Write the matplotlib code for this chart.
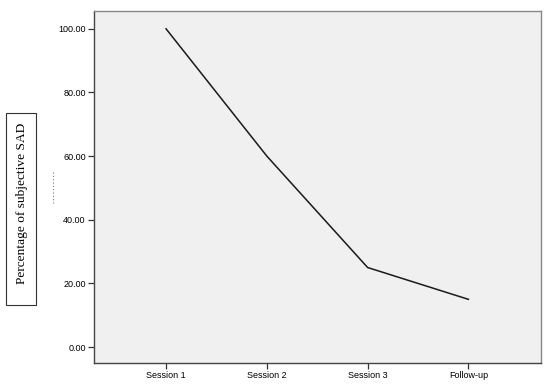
import matplotlib
matplotlib.use("Agg")
import matplotlib.pyplot as plt
from matplotlib.lines import Line2D
from matplotlib.patches import Rectangle

categories = ["Session 1", "Session 2", "Session 3", "Follow-up"]
values = [100, 60, 25, 15]
yticks = [0, 20, 40, 60, 80, 100]
ylabel = "Percentage of subjective SAD"

W, H = 550, 385
fig = plt.figure(figsize=(W / 100, H / 100), dpi=100)
fig.patch.set_facecolor("white")

left, right, top, bottom = 94, 541, 11, 363
ax = fig.add_axes([left / W, 1 - bottom / H, (right - left) / W, (bottom - top) / H])
ax.set_facecolor("#F0F0F0")

x = list(range(len(categories)))
ax.plot(x, values, color="#1a1a1a", linewidth=1.1)

ax.set_xlim(-0.715, 3.72)
ax.set_ylim(-5.0, 105.6)
ax.set_xticks(x)
ax.set_xticklabels(categories, fontsize=6.5, family="Liberation Sans")
ax.set_yticks(yticks)
ax.set_yticklabels([f"{v:.2f}" for v in yticks], fontsize=6.5, family="Liberation Sans")
ax.tick_params(axis="both", length=4, width=0.9, color="#333333", pad=2)

for side in ["top", "right"]:
    ax.spines[side].set_color("#888888")
    ax.spines[side].set_linewidth(1.0)
for side in ["left", "bottom"]:
    ax.spines[side].set_color("#444444")
    ax.spines[side].set_linewidth(1.0)

# boxed y label
fig.add_artist(Rectangle((6 / W, 1 - 305 / H), 30 / W, 192 / H, transform=fig.transFigure,
                         facecolor="white", edgecolor="#333333", linewidth=0.8))
fig.text(22 / W, 1 - 203 / H, ylabel, rotation=90, ha="center", va="center",
         fontsize=9.6, family="Liberation Serif", color="black")

# faint dotted mark
fig.add_artist(Line2D([53 / W, 53 / W], [1 - 172 / H, 1 - 203 / H], transform=fig.transFigure,
                      color="#777777", linewidth=0.8, linestyle=(0, (1, 2))))

fig.savefig("out.png", dpi=100)
